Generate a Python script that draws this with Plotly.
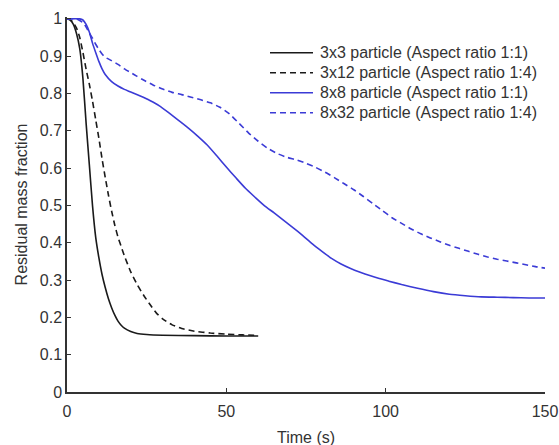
import plotly.graph_objects as go

# Residual mass fraction vs time for four particle geometries
t_3x3 = [0, 1, 2, 3, 4, 5, 6, 7, 8, 9, 10, 11, 12, 13, 14, 15, 16, 17, 18, 20, 22, 25, 30, 40, 50, 60]
m_3x3 = [1, 0.997, 0.985, 0.96, 0.92, 0.84, 0.72, 0.61, 0.5, 0.415, 0.36, 0.315, 0.28, 0.25,
         0.226, 0.206, 0.19, 0.179, 0.171, 0.162, 0.157, 0.154, 0.152, 0.151, 0.15, 0.15]

t_3x12 = [0, 1, 2, 3, 4, 5, 6, 7, 8, 9, 10, 11, 12, 13, 14, 15, 16, 17, 18, 20, 22, 24, 26, 28,
          30, 33, 36, 40, 45, 50, 55, 60]
m_3x12 = [1, 0.998, 0.99, 0.975, 0.95, 0.91, 0.865, 0.825, 0.78, 0.73, 0.68, 0.625, 0.575, 0.528,
          0.485, 0.447, 0.415, 0.39, 0.365, 0.322, 0.288, 0.26, 0.235, 0.212, 0.196, 0.18, 0.17,
          0.163, 0.158, 0.155, 0.153, 0.152]

t_8x8 = [0, 4, 5, 6, 7, 8, 9, 10, 11, 12, 14, 16, 18, 20, 23, 26, 29, 32, 35, 38, 41, 44, 47, 50,
         53, 56, 59, 62, 65, 68, 71, 74, 77, 80, 83, 86, 89, 92, 95, 98, 101, 105, 110, 115, 120,
         125, 130, 135, 140, 145, 150]
m_8x8 = [1, 1, 0.997, 0.985, 0.965, 0.935, 0.91, 0.886, 0.866, 0.851, 0.832, 0.82, 0.811, 0.804,
         0.793, 0.781, 0.767, 0.748, 0.728, 0.708, 0.686, 0.662, 0.633, 0.603, 0.574, 0.546, 0.522,
         0.499, 0.48, 0.46, 0.44, 0.419, 0.397, 0.377, 0.358, 0.343, 0.331, 0.321, 0.312, 0.304,
         0.297, 0.288, 0.278, 0.269, 0.262, 0.258, 0.255, 0.254, 0.253, 0.252, 0.252]

t_8x32 = [0, 3, 5, 6, 7, 8, 9, 10, 11, 12, 14, 16, 18, 20, 22, 24, 27, 30, 33, 36, 39, 42, 45, 48,
          51, 54, 57, 60, 63, 66, 69, 72, 75, 78, 81, 84, 87, 90, 93, 96, 99, 102, 105, 108, 111,
          114, 117, 120, 123, 126, 129, 132, 135, 138, 141, 144, 147, 150]
m_8x32 = [1, 1, 0.99, 0.978, 0.962, 0.948, 0.932, 0.918, 0.906, 0.897, 0.888, 0.878, 0.866, 0.856,
          0.846, 0.836, 0.823, 0.812, 0.803, 0.797, 0.79, 0.783, 0.775, 0.763, 0.745, 0.72, 0.694,
          0.672, 0.653, 0.639, 0.629, 0.622, 0.613, 0.602, 0.589, 0.574, 0.558, 0.542, 0.524, 0.505,
          0.486, 0.467, 0.452, 0.437, 0.424, 0.413, 0.403, 0.393, 0.385, 0.377, 0.369, 0.362, 0.356,
          0.351, 0.346, 0.341, 0.336, 0.332]

names = [
    "3x3 particle (Aspect ratio 1:1)",
    "3x12 particle (Aspect ratio 1:4)",
    "8x8 particle (Aspect ratio 1:1)",
    "8x32 particle (Aspect ratio 1:4)",
]

BLACK = "#1a1a1a"
BLUE = "#3b3bd6"
DASH = "6px,4px"
TEXT = "#333333"
FONT = "Liberation Sans, Arial, sans-serif"

series = [
    (t_3x3, m_3x3, BLACK, "solid"),
    (t_3x12, m_3x12, BLACK, DASH),
    (t_8x8, m_8x8, BLUE, "solid"),
    (t_8x32, m_8x32, BLUE, DASH),
]

W, H = 559, 445
ML, MR, MT, MB = 67, 14, 17, 53
PW, PH = W - ML - MR, H - MT - MB


def px_x(px):
    return (px - ML) / PW


def px_y(py):
    return 1 - (py - MT) / PH


fig = go.Figure()
for name, (t, m, color, dash) in zip(names, series):
    fig.add_trace(go.Scatter(
        x=t, y=m, mode="lines", name=name, showlegend=False,
        line=dict(color=color, width=1.6, dash=dash, shape="spline", smoothing=0.5),
    ))

# Legend drawn as key lines plus labels, stacked in the upper right
key_x0, key_x1, label_x = 270, 313, 318
row_y = [52.7, 72.7, 92.7, 112.7]
for name, (_, _, color, dash), ry in zip(names, series, row_y):
    fig.add_shape(
        type="line", xref="paper", yref="paper",
        x0=px_x(key_x0), x1=px_x(key_x1), y0=px_y(ry), y1=px_y(ry),
        line=dict(color=color, width=1.6, dash=dash),
    )
    fig.add_annotation(
        x=px_x(label_x), y=px_y(ry), xref="paper", yref="paper",
        text=name, showarrow=False, xanchor="left", yanchor="middle",
        font=dict(family=FONT, size=16, color=TEXT),
    )

axis_font = dict(family=FONT, size=16, color=TEXT)

# x-axis title placed below the tick labels
fig.add_annotation(
    x=0.5, y=px_y(437), xref="paper", yref="paper",
    text="Time (s)", showarrow=False, xanchor="center", yanchor="middle",
    font=axis_font,
)

fig.update_layout(
    width=W, height=H,
    margin=dict(l=ML, r=MR, t=MT, b=MB, autoexpand=False),
    paper_bgcolor="white", plot_bgcolor="white",
    font=axis_font,
    xaxis=dict(
        range=[0, 150], tickvals=[0, 50, 100, 150],
        ticks="inside", ticklen=4, tickwidth=1.2, tickcolor=TEXT,
        showline=True, linecolor=TEXT, linewidth=1.5,
        showgrid=False, zeroline=False, automargin=False,
        ticklabelstandoff=4,
        tickfont=axis_font,
    ),
    yaxis=dict(
        range=[0, 1.005], tickvals=[0, 0.1, 0.2, 0.3, 0.4, 0.5, 0.6, 0.7, 0.8, 0.9, 1],
        ticktext=["0", "0.1", "0.2", "0.3", "0.4", "0.5", "0.6", "0.7", "0.8", "0.9", "1"],
        ticks="inside", ticklen=4, tickwidth=1.2, tickcolor=TEXT,
        showline=True, linecolor=TEXT, linewidth=1.5,
        showgrid=False, zeroline=False, automargin=False,
        title=dict(text="Residual mass fraction", standoff=8, font=axis_font),
        tickfont=axis_font,
    ),
)

fig.write_html("out.html")
